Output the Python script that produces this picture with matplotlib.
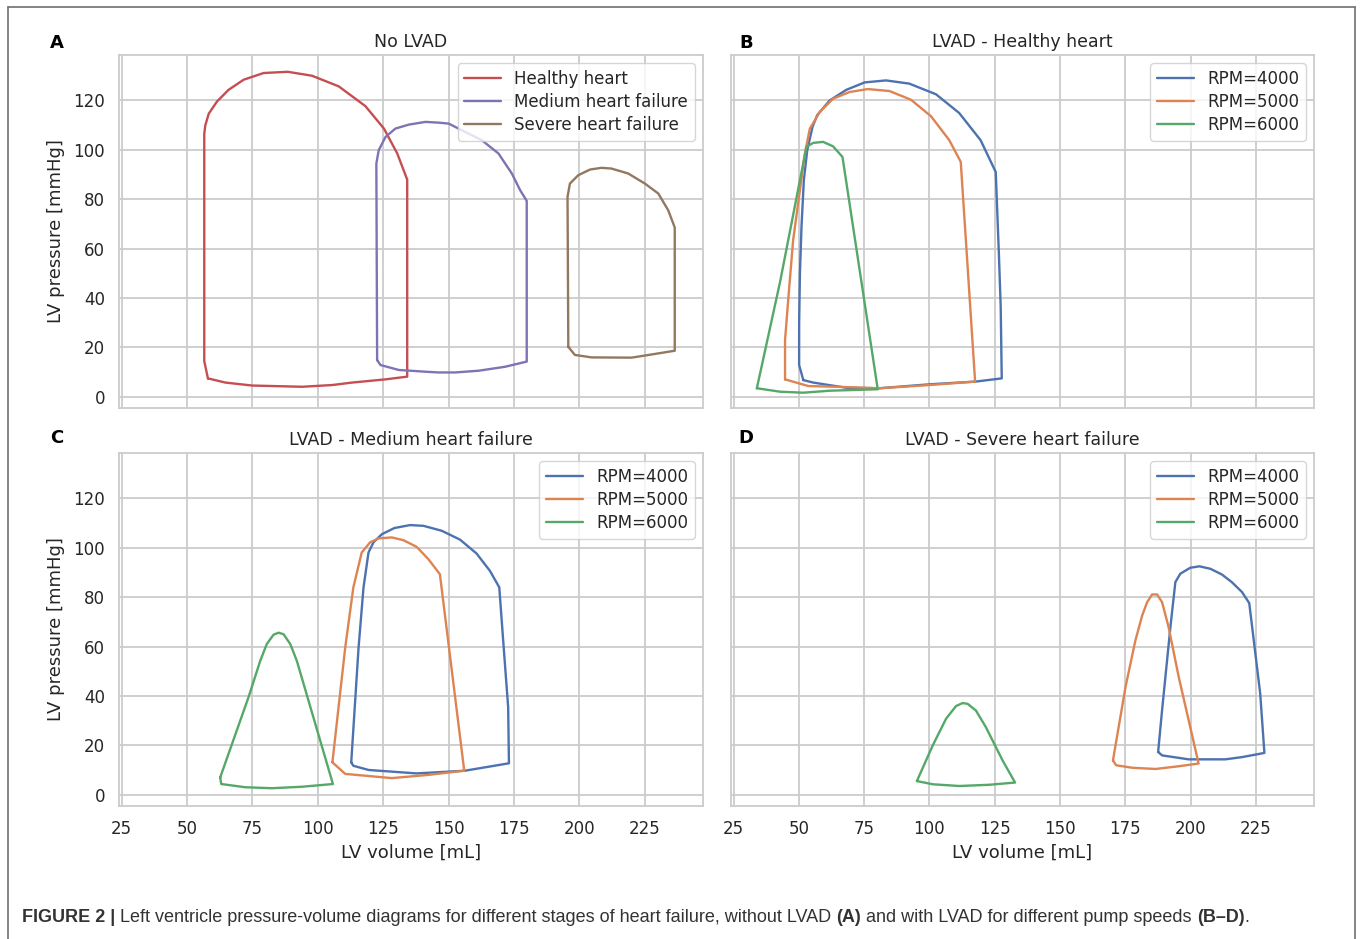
import numpy as np
import matplotlib.pyplot as plt
import seaborn as sns
from matplotlib.lines import Line2D
from matplotlib.text import Annotation

sns.set_theme(style="whitegrid")
plt.rcParams['font.family'] = ['DejaVu Sans']

# ---- panel A: no LVAD ----
healthy_v = [58.0, 56.6, 56.6, 57.0, 58.3, 61.5, 65.9, 71.7, 79.3, 88.5, 97.8, 108.0, 118.2, 125.3,
             130.4, 134.2, 134.2, 125.9, 113.1, 105.5, 94.0, 74.9, 64.7, 58.0]
healthy_p = [7.4, 14.4, 106.5, 109.9, 114.6, 119.6, 124.3, 128.4, 131.1, 131.6, 130.0, 125.7, 117.7, 108.6,
             98.5, 87.9, 8.1, 7.0, 5.7, 4.7, 4.0, 4.5, 5.7, 7.4]
medium_v = [122.7, 122.4, 123.3, 125.9, 129.7, 134.8, 141.2, 146.2, 150.1, 153.8, 162.7, 169.1, 174.2,
            177.4, 179.9, 179.9, 171.6, 161.5, 152.5, 146.2, 141.2, 131.0, 124.0, 122.7]
medium_p = [14.8, 94.4, 99.8, 105.2, 108.6, 110.2, 111.3, 111.0, 110.6, 108.6, 103.9, 98.5, 90.4,
            83.6, 79.3, 14.2, 12.1, 10.5, 9.8, 9.8, 10.1, 10.8, 12.8, 14.8]
severe_v = [195.8, 195.5, 196.4, 199.6, 204.1, 208.5, 212.3, 218.7, 225.1, 230.2, 234.0, 236.5, 236.5,
            228.9, 220.0, 204.7, 198.3, 195.8]
severe_p = [20.2, 80.9, 86.3, 89.7, 92.0, 92.7, 92.4, 90.4, 86.3, 82.3, 75.5, 68.5, 18.6,
            17.3, 15.8, 15.9, 16.9, 20.2]

# ---- panel B: LVAD, healthy heart ----
b4000_v = [51.7, 50.1, 50.1, 50.4, 51.0, 51.9, 53.2, 55.2, 57.0, 61.8, 68.2, 75.2, 83.4, 92.3, 102.5,
           111.4, 119.6, 125.4, 126.6, 127.3, 127.7, 117.7, 100.0, 80.9, 68.2, 55.5, 51.7]
b4000_p = [6.7, 12.8, 29.7, 49.9, 68.8, 87.7, 99.8, 109.2, 114.0, 120.0, 124.3, 127.3, 128.1, 126.8, 122.5,
           114.9, 103.9, 91.0, 58.0, 36.4, 7.4, 6.1, 5.0, 3.4, 3.6, 5.7, 6.7]
b5000_v = [44.7, 44.7, 45.9, 47.8, 50.4, 52.3, 54.2, 58.0, 63.1, 69.4, 76.4, 84.7, 92.9, 100.6, 107.6,
           112.0, 117.5, 100.0, 80.9, 64.4, 53.6, 44.7]
b5000_p = [7.0, 22.9, 39.1, 63.4, 83.6, 98.5, 108.6, 115.3, 120.7, 123.4, 124.6, 123.8, 120.3, 113.6, 103.9,
           95.1, 6.1, 4.7, 3.4, 4.0, 4.3, 7.0]
b6000_v = [33.9, 42.8, 52.9, 55.5, 59.3, 63.1, 66.7, 80.2, 61.8, 51.7, 42.8, 33.9]
b6000_p = [3.4, 46.5, 101.2, 102.8, 103.2, 101.4, 97.1, 3.0, 2.4, 1.6, 2.0, 3.4]

# ---- panel C: LVAD, medium heart failure ----
c4000_v = [112.8, 113.6, 119.4, 137.8, 156.3, 173.1, 172.8, 170.9, 169.4, 165.8, 160.7, 154.4, 147.4,
           140.4, 135.3, 129.3, 124.5, 121.3, 119.4, 117.5, 115.6, 112.8]
c4000_p = [13.1, 11.7, 10.0, 8.6, 9.7, 12.7, 35.4, 62.4, 84.0, 90.7, 97.7, 103.3, 106.9,
           108.9, 109.2, 108.0, 105.5, 102.2, 98.1, 84.0, 59.6, 13.1]
c5000_v = [105.6, 110.5, 128.3, 142.3, 156.0, 146.7, 142.3, 137.8, 132.7, 128.3, 123.2, 120.0, 116.8,
           113.6, 110.5, 105.6]
c5000_p = [13.1, 8.4, 6.7, 8.0, 9.7, 89.3, 95.4, 100.4, 103.1, 104.2, 103.8, 102.2, 98.1,
           83.9, 59.6, 13.1]
c6000_v = [62.7, 63.1, 72.3, 82.5, 93.9, 105.8, 92.0, 89.5, 86.9, 85.0, 83.1, 80.5, 78.0, 73.5, 62.7]
c6000_p = [7.0, 4.3, 3.0, 2.6, 3.2, 4.3, 54.2, 61.0, 65.0, 65.6, 64.8, 61.0, 54.2, 39.4, 7.0]

# ---- panel D: LVAD, severe heart failure ----
d4000_v = [187.6, 189.1, 199.3, 213.3, 219.7, 228.3, 226.7, 222.5, 219.7, 215.8, 212.0, 207.6, 203.4,
           199.9, 196.1, 194.2, 192.3, 189.1, 187.6]
d4000_p = [17.3, 15.9, 14.3, 14.3, 15.2, 16.9, 40.9, 77.6, 82.1, 86.1, 89.2, 91.5, 92.5,
           91.9, 89.5, 86.1, 67.9, 34.1, 17.3]
d5000_v = [170.3, 171.5, 177.6, 186.6, 195.5, 203.1, 195.5, 191.6, 189.1, 187.2, 185.3, 183.4, 181.5,
           178.9, 175.1, 170.3]
d5000_p = [13.9, 11.9, 10.9, 10.4, 11.5, 12.6, 47.6, 67.9, 78.0, 81.1, 81.1, 78.0, 72.6,
           62.5, 43.6, 13.9]
d6000_v = [95.2, 101.3, 111.5, 122.9, 132.8, 128.0, 121.6, 117.8, 114.6, 112.7, 110.2, 106.4, 101.3, 95.2]
d6000_p = [5.5, 4.2, 3.5, 4.0, 4.9, 13.9, 27.4, 34.1, 36.8, 37.1, 35.9, 30.8, 20.0, 5.5]

rpm_labels = ["RPM=4000", "RPM=5000", "RPM=6000"]
x_ticks = [25, 50, 75, 100, 125, 150, 175, 200, 225]
y_ticks = [0, 20, 40, 60, 80, 100, 120]

deep = sns.color_palette("deep")
W, H = 1360, 939
fig = plt.figure(figsize=(W / 100, H / 100), dpi=100)

def box(l, t, r, b):
    return [l / W, 1 - b / H, (r - l) / W, (b - t) / H]

axA = fig.add_axes(box(119, 55, 703, 408))
axB = fig.add_axes(box(731, 55, 1314, 408))
axC = fig.add_axes(box(119, 453, 703, 806))
axD = fig.add_axes(box(731, 453, 1314, 806))

lw = 1.7
axA.plot(healthy_v, healthy_p, color=deep[3], lw=lw, label="Healthy heart")
axA.plot(medium_v, medium_p, color=deep[4], lw=lw, label="Medium heart failure")
axA.plot(severe_v, severe_p, color=deep[5], lw=lw, label="Severe heart failure")

for ax, loops in [(axB, [(b4000_v, b4000_p), (b5000_v, b5000_p), (b6000_v, b6000_p)]),
                  (axC, [(c4000_v, c4000_p), (c5000_v, c5000_p), (c6000_v, c6000_p)]),
                  (axD, [(d4000_v, d4000_p), (d5000_v, d5000_p), (d6000_v, d6000_p)])]:
    for i, (v, p) in enumerate(loops):
        ax.plot(v, p, color=deep[i], lw=lw, label=rpm_labels[i])

titles = ["No LVAD", "LVAD - Healthy heart", "LVAD - Medium heart failure", "LVAD - Severe heart failure"]
for ax, t in zip([axA, axB, axC, axD], titles):
    ax.set_xlim(24, 247.3)
    ax.set_ylim(-4.6, 138.4)
    ax.set_xticks(x_ticks)
    ax.set_yticks(y_ticks)
    ax.set_title(t, fontsize=12.5, color="#262626", pad=6)
    ax.tick_params(labelsize=12, pad=10, colors="#262626", length=0)
    ax.grid(True, color="#cccccc", lw=1.3)
    for s in ax.spines.values():
        s.set_color("#cccccc")
        s.set_linewidth(1.3)
    leg = ax.legend(loc="upper right", fontsize=12, frameon=True, borderpad=0.4,
                    handlelength=2.2, labelspacing=0.3)
    leg.get_frame().set_edgecolor("#cccccc")
    for txt in leg.get_texts():
        txt.set_color("#262626")

for ax in [axA, axB]:
    ax.tick_params(labelbottom=False)
for ax in [axB, axD]:
    ax.tick_params(labelleft=False)
for ax in [axA, axC]:
    ax.set_ylabel("LV pressure [mmHg]", fontsize=13, color="#262626", labelpad=6)
for ax in [axC, axD]:
    ax.set_xlabel("LV volume [mL]", fontsize=13, color="#262626", labelpad=4)

for letter, x, y in [("A", 57, 43), ("B", 746, 43), ("C", 57, 438), ("D", 746, 438)]:
    fig.text(x / W, 1 - y / H, letter, fontsize=13, fontweight="bold", ha="center", va="center",
             color="black")

# outer frame (open at the bottom)
fcol = "#707070"
fig.add_artist(Line2D([8 / W, 8 / W], [0, 1 - 7 / H], color=fcol, lw=1.2))
fig.add_artist(Line2D([1355 / W, 1355 / W], [0, 1 - 7 / H], color=fcol, lw=1.2))
fig.add_artist(Line2D([8 / W, 1355 / W], [1 - 7 / H, 1 - 7 / H], color=fcol, lw=1.2))

# caption, bold pieces chained one after another
cap_font = ["Liberation Sans Narrow", "Liberation Sans", "DejaVu Sans"]
cap_size = 13
pieces = [("FIGURE 2 | ", "bold"),
          ("Left ventricle pressure-volume diagrams for different stages of heart failure, without LVAD ", "normal"),
          ("(A)", "bold"), (" and with LVAD for different pump speeds ", "normal"),
          ("(B\u2013D)", "bold"), (".", "normal")]
chain = fig.text(22 / W, 1 - 922 / H, pieces[0][0], fontsize=cap_size, fontweight=pieces[0][1],
                 family=cap_font, color="#333333", va="baseline")
for txt, wt in pieces[1:]:
    chain = fig.add_artist(Annotation(
        txt, xy=(1, 0), xycoords=chain, xytext=(0, 0), textcoords="offset points",
        fontsize=cap_size, fontweight=wt, family=cap_font, color="#333333",
        va="bottom", annotation_clip=False))

fig.savefig("out.png", dpi=100)
